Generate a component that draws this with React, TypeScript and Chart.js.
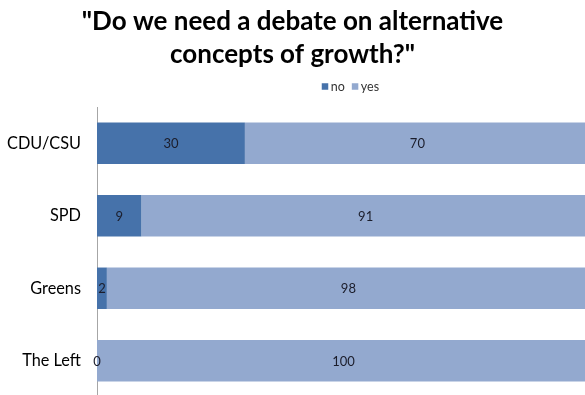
import React, { useEffect, useRef } from 'react';
import { Chart, registerables } from 'chart.js';

Chart.register(...registerables);

const TITLE_LINES = ['"Do we need a debate on alternative', 'concepts of growth?"'];
const CATEGORIES = ['CDU/CSU', 'SPD', 'Greens', 'The Left'];
const SERIES_NAMES = ['no', 'yes'];
const NO_VALUES = [30, 9, 2, 0];
const YES_VALUES = [70, 91, 98, 100];
const COLORS = ['#4672AA', '#93A9CF'];

const FONT = 'Lato';

const dataLabelPlugin = {
  id: 'dataLabels',
  afterDatasetsDraw(chart: any) {
    const ctx = chart.ctx;
    ctx.save();
    ctx.font = `13px ${FONT}`;
    ctx.fillStyle = '#1b1d2b';
    ctx.textAlign = 'center';
    ctx.textBaseline = 'middle';
    chart.data.datasets.forEach((ds: any, di: number) => {
      const meta = chart.getDatasetMeta(di);
      meta.data.forEach((el: any, i: number) => {
        const x = (el.x + el.base) / 2;
        ctx.fillText(String(ds.data[i]), x, el.y + 1);
      });
    });
    ctx.restore();
  },
};

const legendPlugin = {
  id: 'customLegend',
  afterDraw(chart: any) {
    const ctx = chart.ctx;
    ctx.save();
    ctx.font = `12.5px ${FONT}`;
    ctx.textBaseline = 'middle';
    ctx.textAlign = 'left';
    let x = chart.width * 0.55;
    const y = 86.5;
    const box = 6.5;
    chart.data.datasets.forEach((ds: any) => {
      ctx.fillStyle = ds.backgroundColor;
      ctx.fillRect(x, y - box / 2, box, box);
      x += box + 2.5;
      ctx.fillStyle = '#333333';
      ctx.fillText(ds.label, x, y);
      x += ctx.measureText(ds.label).width + 7;
    });
    ctx.restore();
  },
};

export default function App() {
  const ref = useRef<HTMLCanvasElement | null>(null);

  useEffect(() => {
    if (!ref.current) return;
    const chart = new Chart(ref.current, {
      type: 'bar',
      data: {
        labels: CATEGORIES,
        datasets: [
          { label: SERIES_NAMES[0], data: NO_VALUES, backgroundColor: COLORS[0], borderWidth: 0 },
          { label: SERIES_NAMES[1], data: YES_VALUES, backgroundColor: COLORS[1], borderWidth: 0 },
        ],
      },
      options: {
        indexAxis: 'y',
        responsive: false,
        animation: false,
        devicePixelRatio: 1,
        datasets: { bar: { barPercentage: 0.572, categoryPercentage: 1 } },
        layout: { padding: 0 },
        plugins: {
          legend: { display: false },
          tooltip: { enabled: false },
          title: {
            display: true,
            text: TITLE_LINES,
            color: '#000',
            font: { family: FONT, size: 26, weight: 'bold', lineHeight: 1.26 },
            padding: { top: 5.2, bottom: 36.3 },
          },
        },
        scales: {
          x: { type: 'linear', stacked: true, min: 0, max: 99, display: false },
          y: {
            stacked: true,
            grid: { display: false, drawTicks: false },
            border: { display: true, color: '#A6A6A6', width: 1 },
            ticks: { color: '#000', font: { family: FONT, size: 16.3 }, padding: 16 },
            afterFit: (scale: any) => {
              scale.width = 97;
              scale.paddingTop = 0;
              scale.paddingBottom = 0;
            },
          },
        },
      },
      plugins: [dataLabelPlugin, legendPlugin],
    } as any);
    return () => chart.destroy();
  }, []);

  return (
    <div style={{ position: 'fixed', left: 0, top: 0, width: 585, height: 395, overflow: 'hidden', background: '#fff' }}>
      <canvas ref={ref} width={585} height={397} style={{ display: 'block', width: 585, height: 397 }} />
    </div>
  );
}
